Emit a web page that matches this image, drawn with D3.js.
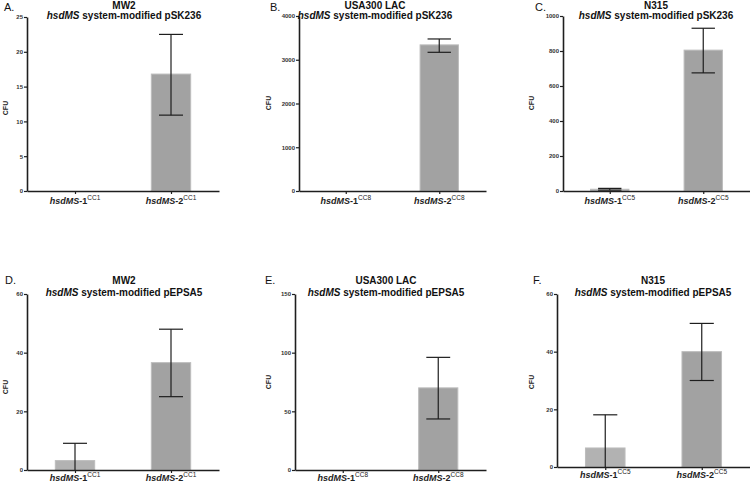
<!DOCTYPE html>
<html><head><meta charset="utf-8">
<script src="https://cdn.jsdelivr.net/npm/d3@7"></script>
<style>
html,body{margin:0;padding:0;background:#fff;}
svg{display:block;font-family:"Liberation Sans",Arial,sans-serif;}
</style></head>
<body>
<svg id="chart" width="750" height="483"></svg>
<script>
// ---- data ----
const panelLetters = ["A.", "B.", "C.", "D.", "E.", "F."];
const strains = ["MW2", "USA300 LAC", "N315", "MW2", "USA300 LAC", "N315"];
const plasmids = ["pSK236", "pSK236", "pSK236", "pEPSA5", "pEPSA5", "pEPSA5"];
const clonalComplexes = ["CC1", "CC8", "CC5", "CC1", "CC8", "CC5"];
const categories = ["hsdMS-1", "hsdMS-2"];
const meanCFU = [[0, 16.8], [0, 3340], [10, 805], [3.2, 36.6], [0, 70], [6.6, 40]];
const errUpper = [[0, 22.5], [0, 3475], [15, 930], [9.1, 48], [0, 96], [18.1, 49.8]];
const errLower = [[0, 10.9], [0, 3170], [5, 675], [0, 25], [0, 43.5], [0, 30]];
const yTicks = [
  [0, 5, 10, 15, 20, 25],
  [0, 1000, 2000, 3000, 4000],
  [0, 200, 400, 600, 800, 1000],
  [0, 20, 40, 60],
  [0, 50, 100, 150],
  [0, 20, 40, 60]
];
const yLabel = "CFU";

// ---- layout (pixel placement of each panel) ----
const layout = [
  {x0: 27, x1: 219, yTop: 17, y0: 191, lx: 4, ly: 11, tx: 124, ty1: 8.5, ty2: 19, cfuX: 6, cfuY: 108, labY: 204},
  {x0: 299, x1: 486, yTop: 16, y0: 191, lx: 270, ly: 11, tx: 375, ty1: 8.5, ty2: 19, cfuX: 269, cfuY: 103, labY: 204},
  {x0: 563, x1: 750, yTop: 16, y0: 191, lx: 535, ly: 11, tx: 656, ty1: 8.5, ty2: 19, cfuX: 532, cfuY: 103, labY: 204},
  {x0: 27, x1: 219, yTop: 294, y0: 470, lx: 5, ly: 284, tx: 124, ty1: 284, ty2: 296, cfuX: 6, cfuY: 387, labY: 481},
  {x0: 295, x1: 486, yTop: 294, y0: 470, lx: 265, ly: 284, tx: 386, ty1: 284, ty2: 296, cfuX: 269, cfuY: 382, labY: 481},
  {x0: 557, x1: 750, yTop: 294, y0: 467, lx: 533, ly: 284, tx: 653, ty1: 284, ty2: 296, cfuX: 532, cfuY: 382, labY: 478}
];
const barColors = ["#b2b2b2", "#a2a2a2"];
const barEdge = "#bcbcbc";
const axisColor = "#1e1e1e";

const svg = d3.select("#chart");

layout.forEach((L, p) => {
  const g = svg.append("g");
  const x = d3.scalePoint().domain(categories).range([L.x0, L.x1]).padding(0.5);
  const y = d3.scaleLinear().domain([0, d3.max(yTicks[p])]).range([L.y0, L.yTop]);
  const bw = x.step() * 0.41;

  // bars
  g.selectAll("rect.bar").data(categories).join("rect")
    .attr("x", d => x(d) - bw / 2)
    .attr("width", bw)
    .attr("y", (d, i) => y(meanCFU[p][i]))
    .attr("height", (d, i) => y(0) - y(meanCFU[p][i]))
    .attr("fill", (d, i) => barColors[i])
    .attr("stroke", (d, i) => meanCFU[p][i] > 0 ? barEdge : "none")
    .attr("stroke-width", 1);

  // error bars
  const capW = x.step() * 0.25;
  categories.forEach((c, i) => {
    if (errUpper[p][i] <= 0) return;
    const cx = x(c);
    g.append("line").attr("x1", cx).attr("x2", cx)
      .attr("y1", y(errUpper[p][i])).attr("y2", y(errLower[p][i]))
      .attr("stroke", axisColor).attr("stroke-width", 1.2);
    g.append("line").attr("x1", cx - capW / 2).attr("x2", cx + capW / 2)
      .attr("y1", y(errUpper[p][i])).attr("y2", y(errUpper[p][i]))
      .attr("stroke", axisColor).attr("stroke-width", 1.2);
    if (errLower[p][i] > 0) {
      g.append("line").attr("x1", cx - capW / 2).attr("x2", cx + capW / 2)
        .attr("y1", y(errLower[p][i])).attr("y2", y(errLower[p][i]))
        .attr("stroke", axisColor).attr("stroke-width", 1.2);
    }
  });

  // y axis
  const ya = g.append("g").attr("transform", `translate(${L.x0},0)`)
    .call(d3.axisLeft(y).tickValues(yTicks[p]).tickFormat(d3.format("d"))
      .tickSize(3).tickSizeOuter(0).tickPadding(1));
  ya.select(".domain").attr("stroke", axisColor).attr("stroke-width", 1.6);
  ya.selectAll(".tick line").attr("stroke", axisColor).attr("stroke-width", 1.2);
  ya.selectAll(".tick text").attr("font-size", 6).attr("font-weight", "bold").attr("fill", "#333")
    .attr("font-family", "'Liberation Sans', Arial, sans-serif");

  // x axis
  const xa = g.append("g").attr("transform", `translate(0,${L.y0})`)
    .call(d3.axisBottom(x).tickSize(3).tickSizeOuter(0).tickFormat(""));
  xa.select(".domain").attr("stroke", axisColor).attr("stroke-width", 1.6);
  xa.selectAll(".tick line").attr("stroke", axisColor).attr("stroke-width", 1.2);

  // category labels
  categories.forEach((c, i) => {
    const parts = c.split("-");
    const t = g.append("text").attr("x", x(c)).attr("y", L.labY)
      .attr("text-anchor", "middle").attr("font-size", 9).attr("font-weight", "bold").attr("fill", "#222");
    t.append("tspan").attr("font-style", "italic").text(parts[0]);
    t.append("tspan").text("-" + parts[1]);
    t.append("tspan").attr("font-size", 6.5).attr("font-weight", "normal").attr("dy", -4).text(clonalComplexes[p]);
  });

  // y label
  g.append("text").attr("transform", `translate(${L.cfuX},${L.cfuY}) rotate(-90)`)
    .attr("text-anchor", "middle").attr("dy", "0.35em")
    .attr("font-size", 7).attr("font-weight", "bold").attr("fill", "#222").text(yLabel);

  // titles
  g.append("text").attr("x", L.tx).attr("y", L.ty1).attr("text-anchor", "middle")
    .attr("font-size", 10).attr("font-weight", "bold").attr("fill", "#111").text(strains[p]);
  const st = g.append("text").attr("x", L.tx).attr("y", L.ty2).attr("text-anchor", "middle")
    .attr("font-size", 10).attr("font-weight", "bold").attr("fill", "#111");
  st.append("tspan").attr("font-style", "italic").text("hsdMS");
  st.append("tspan").text(" system-modified " + plasmids[p]);

  // panel letter
  g.append("text").attr("x", L.lx).attr("y", L.ly).attr("font-size", 11).attr("fill", "#111")
    .text(panelLetters[p]);
});
</script>
</body></html>
